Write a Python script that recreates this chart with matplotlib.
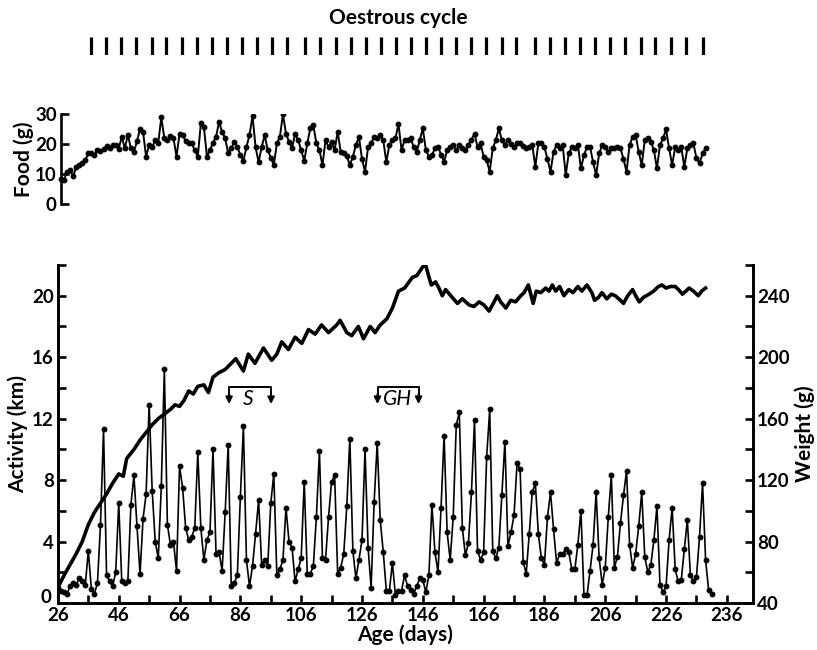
import numpy as np
import matplotlib
matplotlib.use("Agg")
import matplotlib.pyplot as plt
from matplotlib.ticker import FixedLocator
from matplotlib.transforms import ScaledTranslation

plt.rcParams['font.family'] = ['Lato', 'DejaVu Sans']

# ---- data ----
# daily running-wheel activity (km), day 26 onwards
activity_km = [
    1.0, 0.8, 0.7, 0.6, 1.1, 1.3, 1.2, 1.6, 1.4, 1.2,        # 26-35
    3.4, 0.9, 0.6, 1.3, 5.1, 11.3, 1.8, 1.4, 1.1, 2.0,       # 36-45
    6.5, 1.4, 1.3, 1.4, 6.4, 8.3, 5.0, 1.9, 5.5, 7.1,        # 46-55
    12.9, 7.3, 4.0, 2.9, 7.6, 15.2, 5.1, 3.8, 4.0, 2.1,      # 56-65
    8.9, 7.5, 4.9, 4.1, 4.3, 4.9, 9.8, 4.9, 2.8, 4.1,        # 66-75
    4.6, 10.0, 3.2, 3.3, 2.1, 5.9, 10.3, 1.1, 1.3, 1.8,      # 76-85
    6.9, 11.5, 2.8, 1.1, 2.4, 4.5, 6.7, 2.5, 2.8, 2.4,       # 86-95
    6.5, 8.4, 1.8, 2.2, 2.8, 6.2, 4.0, 3.6, 1.4, 2.2,        # 96-105
    2.9, 7.9, 1.9, 1.9, 2.4, 5.6, 9.9, 2.9, 2.8, 5.6,        # 106-115
    7.9, 8.3, 1.9, 2.3, 3.2, 6.3, 10.7, 3.4, 1.6, 2.8,       # 116-125
    4.1, 10.0, 3.6, 1.0, 6.6, 10.4, 5.4, 3.3, 0.8, 0.8,      # 126-135
    2.6, 0.5, 0.8, 0.8, 1.8, 1.1, 0.85, 0.6, 1.1, 1.6,       # 136-145
    1.5, 0.7, 1.8, 6.4, 3.3, 2.0, 6.2, 10.9, 4.6, 2.8,       # 146-155
    5.6, 11.6, 12.4, 4.9, 3.1, 3.9, 7.2, 11.9, 3.4, 2.8,     # 156-165
    3.3, 9.5, 12.6, 3.4, 2.9, 3.6, 7.0, 10.5, 3.7, 4.6,      # 166-175
    5.7, 9.1, 8.7, 2.7, 1.9, 4.5, 7.2, 7.8, 4.5, 2.9,        # 176-185
    2.5, 5.6, 7.2, 4.8, 2.6, 3.2, 3.2, 3.5, 3.3, 2.2,        # 186-195
    2.2, 3.8, 6.0, 0.5, 0.5, 2.1, 3.8, 7.2, 2.9, 1.2,        # 196-205
    2.3, 5.6, 8.3, 2.3, 3.0, 5.2, 7.0, 8.6, 3.8, 2.3,        # 206-215
    3.2, 5.0, 7.2, 3.0, 2.0, 2.5, 4.1, 6.3, 1.2, 0.7,        # 216-225
    1.1, 4.1, 6.2, 2.2, 1.4, 1.5, 3.5, 5.4, 1.8, 1.4,        # 226-235
    1.7, 4.3, 7.8, 2.8, 0.85, 0.57,                          # 236-241
]
activity_days = np.arange(26, 26 + len(activity_km))

# body weight (g), read at the turning points of the curve
weight_days = [26, 28, 30, 32, 34, 36, 38, 40, 42, 44, 46, 47.5, 48.6, 51, 53,
               55, 57, 59, 61, 63, 64.5, 66, 67.5, 69, 70.5, 72, 74, 75.5, 77,
               79, 81, 82.5, 84.5, 87, 88.6, 90.8, 93.6, 96.3, 98, 99.6, 101.8,
               104, 106.2, 108.4, 110.6, 112.7, 115, 117.7, 118.8, 121, 122.6,
               124.8, 126.5, 128.7, 130.3, 132, 134.2, 136, 138, 140, 142.6,
               144, 145.7, 146.8, 147.9, 148.8, 150.2, 151.3, 152.4, 153.5,
               155.2, 157.4, 159, 161.2, 162.8, 164.5, 166.1, 167.8, 168.9,
               170.5, 171.6, 173.3, 174.9, 176.5, 178.2, 179.3, 180.7, 181.5,
               182.3, 183.3, 184.8, 186.4, 187.5, 188.6, 189.7, 191, 192.4,
               194, 195.4, 197, 198.3, 200, 201.6, 202.5, 203.8, 204.9, 206.5,
               208, 209.3, 211, 212, 213.4, 215, 216, 217.2, 218.6, 220.4,
               221.9, 223.5, 224.6, 226, 227.4, 229, 230.1, 231.4, 232.5,
               233.6, 235, 236.6, 237.7, 239]
weight_g = [50, 58, 65, 72, 80, 91, 99, 105, 111, 118, 124, 122.5, 134, 140, 146,
            151, 156, 160, 163, 166, 169, 168, 172, 178, 176, 181, 182, 177, 187,
            190, 192, 195, 199, 191, 202, 196, 206, 198, 202, 210, 205,
            213, 209, 218, 215, 221, 216, 221, 224, 216, 214,
            220, 212, 220, 216, 221, 225, 232, 243, 245, 252,
            253, 258, 261, 253, 247, 249, 245, 240, 244,
            240, 235, 238, 234, 233, 236, 234, 230, 234,
            240, 236, 232, 237, 236, 240, 242, 247, 241,
            235, 243, 242, 245, 243, 247, 243, 246, 240,
            244, 242, 246, 243, 247, 242, 237, 239, 242, 238,
            241, 240, 237, 235, 240, 244, 240, 236, 239, 241,
            243, 246, 247, 245, 246, 246, 244, 241, 243,
            245, 243, 240, 243, 245]

# daily food intake (g), day 27 onwards
food_g = [
    8.2, 8.0, 10.8, 11.3, 9.3, 12.2, 13.0, 13.8, 14.7, 16.9,      # 27-36
    17.1, 16.3, 18.0, 17.8, 18.2, 19.3, 18.6, 19.7, 19.7, 18.5,   # 37-46
    22.4, 18.6, 23.0, 18.6, 17.4, 21.0, 25.0, 24.0, 15.8, 19.7,   # 47-56
    19.0, 21.3, 20.5, 28.9, 21.9, 21.3, 22.7, 22.0, 15.8, 23.5,   # 57-66
    23.0, 21.0, 20.2, 20.2, 18.0, 15.8, 26.9, 25.8, 15.8, 18.0,   # 67-76
    20.5, 22.4, 27.4, 24.0, 21.9, 16.9, 18.6, 20.8, 19.0, 16.3,   # 77-86
    14.4, 19.0, 23.0, 29.3, 19.0, 14.0, 19.0, 23.0, 18.0, 15.5,   # 87-96
    13.0, 20.2, 22.4, 30.0, 23.5, 20.8, 18.6, 23.5, 21.3, 18.0,   # 97-106
    14.4, 20.2, 25.2, 26.3, 20.2, 18.0, 13.0, 21.3, 19.0, 20.8,   # 107-116
    18.0, 24.1, 17.4, 16.9, 16.0, 13.0, 15.8, 19.7, 22.4, 15.0,   # 117-126
    10.8, 19.0, 20.2, 22.4, 21.9, 23.0, 21.3, 14.0, 19.7, 21.3,   # 127-136
    21.9, 26.7, 18.0, 21.3, 21.5, 21.9, 19.0, 17.4, 21.3, 25.2,   # 137-146
    18.0, 15.8, 16.3, 18.6, 19.0, 16.5, 14.1, 18.0, 19.0, 19.7,   # 147-156
    18.0, 19.7, 18.6, 18.0, 19.7, 21.5, 23.5, 19.0, 20.2, 15.8,   # 157-166
    14.7, 10.8, 18.6, 21.3, 25.2, 21.3, 19.7, 21.3, 20.0, 19.0,   # 167-176
    20.2, 20.2, 19.5, 18.6, 19.0, 19.7, 12.4, 20.2, 20.2, 19.0,   # 177-186
    15.0, 10.8, 17.4, 19.7, 18.6, 19.7, 9.7, 16.9, 19.0, 18.6,    # 187-196
    19.7, 11.9, 16.3, 19.0, 19.0, 14.0, 9.7, 16.9, 19.7, 19.0,    # 197-206
    17.4, 18.6, 18.8, 19.0, 18.6, 15.0, 10.8, 19.7, 22.4, 23.0,   # 207-216
    17.4, 13.0, 21.3, 21.9, 20.8, 18.0, 11.9, 19.7, 21.9, 24.9,   # 217-226
    18.6, 13.0, 19.0, 18.0, 19.0, 12.4, 18.6, 19.7, 20.2, 15.2,   # 227-236
    13.6, 16.9, 18.6,                                             # 237-239
]
food_days = np.arange(27, 27 + len(food_g))

# oestrus marks (day)
oestrus_days = [37.0, 41.9, 46.9, 51.8, 56.8, 61.7, 66.7, 71.6, 76.6, 81.6,
                86.5, 91.5, 96.5, 101.4, 107.4, 112.3, 117.3, 122.3, 127.2,
                132.2, 137.1, 142.1, 147.0, 152.0, 157.0, 161.9, 166.9, 171.9,
                176.8, 182.8, 187.8, 192.8, 197.7, 202.7, 207.6, 212.6, 217.6,
                222.5, 227.5, 232.5, 238.0]

x_ticks = list(range(26, 247, 10))
x_label_pos = [26, 46, 66, 86, 106, 126, 146, 166, 186, 206, 226, 246]
x_label_txt = ['26', '46', '66', '86', '106', '126', '146', '166', '186',
               '206', '226', '236']

XMIN, XMAX = 26, 254.6
LBL = dict(fontsize=15, fontweight='bold')
TICK_FS = 13.5

fig = plt.figure(figsize=(8.17, 6.5), dpi=100)

# ---- main panel: activity + weight ----
ax = fig.add_axes([0.0709, 0.0723, 0.8508, 0.52])
ax.set_xlim(XMIN, XMAX)
ax.set_ylim(0, 22)
ax.plot(activity_days, activity_km, color='black', lw=1.2,
        marker='o', ms=3.2, zorder=3)
ax.spines['top'].set_visible(False)
for s in ('left', 'bottom', 'right'):
    ax.spines[s].set_linewidth(1.9)
ax.set_xticks(x_label_pos, x_label_txt)
ax.xaxis.set_minor_locator(FixedLocator([t for t in x_ticks if t not in x_label_pos]))
ax.set_yticks([0, 4, 8, 12, 16, 20])
ax.yaxis.set_minor_locator(FixedLocator([2, 6, 10, 14, 18, 22]))
ax.tick_params(which='both', direction='in', length=6, width=1.9,
               labelsize=TICK_FS, pad=3)
ax.tick_params(axis='x', which='both', pad=3)
for lab in ax.get_xticklabels() + ax.get_yticklabels():
    lab.set_fontweight('bold')
# the "0" sits a little above the axis line, clear of the "26"
zero = ax.get_yticklabels()[0]
zero.set_transform(zero.get_transform() +
                   ScaledTranslation(-2 / 72, 5 / 72, fig.dpi_scale_trans))
ax.set_xlabel('Age (days)', labelpad=0, **LBL)
ax.set_ylabel('Activity (km)', labelpad=3, **LBL)

ax2 = ax.twinx()
ax2.set_ylim(40, 260)
ax2.plot(weight_days, weight_g, color='black', lw=2.6, solid_joinstyle='round')
ax2.spines['top'].set_visible(False)
for s in ('left', 'bottom', 'right'):
    ax2.spines[s].set_linewidth(1.9)
ax2.set_yticks([40, 80, 120, 160, 200, 240])
ax2.yaxis.set_minor_locator(FixedLocator([60, 100, 140, 180, 220, 260]))
ax2.tick_params(which='both', direction='in', length=6, width=1.9,
                labelsize=TICK_FS, pad=3)
for lab in ax2.get_yticklabels():
    lab.set_fontweight('bold')
ax2.set_ylabel('Weight (g)', labelpad=3, **LBL)

# treatment brackets
def bracket(x0, x1, label, xt):
    ax.plot([x0, x0, x1, x1], [13.5, 14.05, 14.05, 13.5], color='black', lw=1.4)
    for xx in (x0, x1):
        ax.annotate('', xy=(xx, 12.95), xytext=(xx, 13.6),
                    arrowprops=dict(arrowstyle='-|>', color='black', lw=1.4,
                                    mutation_scale=10, shrinkA=0, shrinkB=0))
    ax.text(xt, 13.3, label, ha='center', va='center', fontsize=15,
            style='italic')

bracket(82.3, 96.1, 'S', 88.5)
bracket(131.1, 144.6, 'GH', 137.8)

# ---- food panel ----
axf = fig.add_axes([0.0709, 0.686, 0.8508, 0.1385])
axf.set_xlim(XMIN, XMAX)
axf.set_ylim(0, 30)
axf.plot(food_days, food_g, color='black', lw=1.4, marker='o', ms=3.2)
for s in ('top', 'right', 'bottom'):
    axf.spines[s].set_visible(False)
axf.spines['left'].set_linewidth(1.9)
axf.spines['left'].set_position(('data', 27))
axf.set_xticks([])
axf.set_yticks([0, 10, 20, 30])
axf.tick_params(direction='in', length=6, width=1.9, labelsize=TICK_FS, pad=3)
for lab in axf.get_yticklabels():
    lab.set_fontweight('bold')
axf.set_ylabel('Food (g)', labelpad=1, **LBL)

# ---- oestrous cycle marks ----
axo = fig.add_axes([0.0709, 0.916, 0.8508, 0.027])
axo.set_xlim(XMIN, XMAX)
axo.set_ylim(0, 1)
axo.vlines(oestrus_days, 0, 1, color='black', lw=2.3)
axo.axis('off')
fig.text(0.487, 0.972, 'Oestrous cycle', ha='center', va='center', **LBL)

fig.savefig('out.png', dpi=100)
